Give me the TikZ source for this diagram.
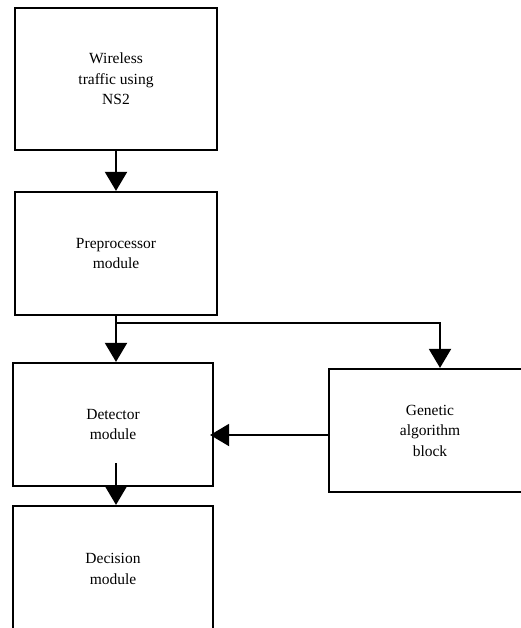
\documentclass[tikz,border=0pt]{standalone}
\usepackage{fontspec}
\setmainfont{Liberation Serif}
\usetikzlibrary{positioning,arrows.meta}

\begin{document}
\begin{tikzpicture}[x=1pt, y=-1pt, node distance=40pt,
    every node/.style={draw, rectangle, line width=2.2pt, align=center, inner sep=0pt,
      minimum width=202pt, minimum height=123pt, font=\fontsize{15.5}{20.5}\selectfont},
    arr/.style={-{Triangle[length=19pt,width=22pt]}, line width=2pt}]
        \path[use as bounding box, clip] (0,0) rectangle (521,628);

        % Main chain of modules
        \node (wireless) at (116,79) [minimum height=142pt] {Wireless\\traffic using\\NS2};
        \node (preproc) [below=39.8pt of wireless] {Preprocessor\\module};
        \node (detector) [below=45.8pt of preproc, xshift=-3pt, minimum width=200pt] {Detector\\module};
        \node (decision) [below=17.8pt of detector, minimum width=200pt, minimum height=126pt] {Decision\\module};

        % Side block
        \node (genetic) at (430,430.5) {Genetic\\algorithm\\block};

        % Helper points for the connectors
        \coordinate (split) at ([yshift=-7pt]preproc.south);
        \coordinate (gin) at ([xshift=-4pt,yshift=-10.5pt]detector.east);
        \coordinate (dout) at ([xshift=3pt,yshift=-38.5pt]detector.center);

        % Arrows
        \draw[arr] (wireless) -- (preproc);
        \draw[arr] (preproc.south) -- (preproc.south |- detector.north);
        \draw[arr] (split) -| ([xshift=10pt]genetic.north);
        \draw[arr] (genetic.west |- gin) -- (gin);
        \draw[arr] (dout) -- (dout |- decision.north);
      \end{tikzpicture}
\end{document}
